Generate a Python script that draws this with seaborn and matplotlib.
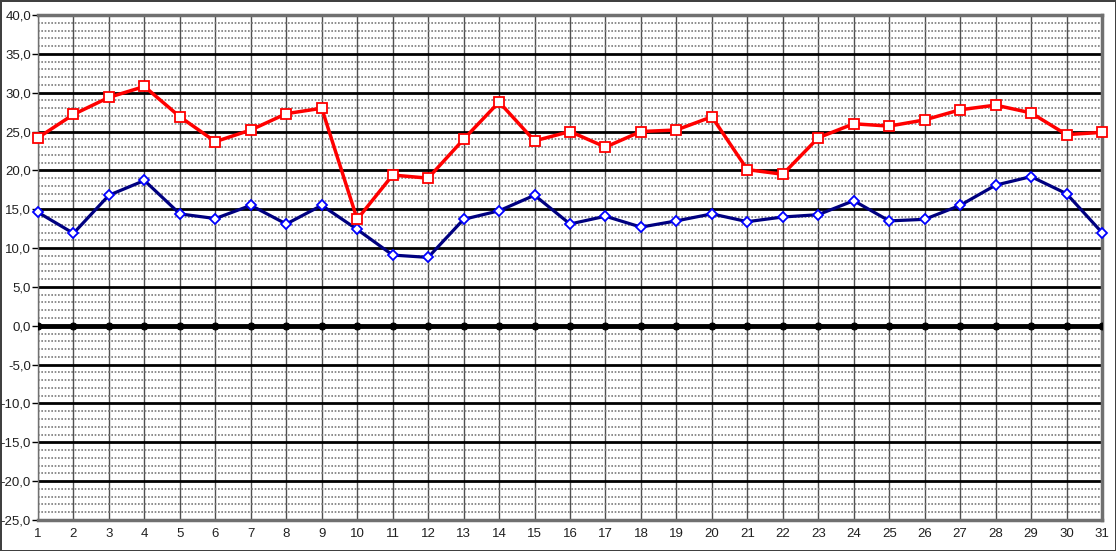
import numpy as np
import matplotlib
matplotlib.use('Agg')
import matplotlib.pyplot as plt
import matplotlib.ticker as mticker
import pandas as pd
import seaborn as sns

# days of month
days = list(range(1, 32))

# upper series (red squares)
red_vals = [24.2, 27.2, 29.4, 30.8, 26.9, 23.7, 25.2, 27.3, 28.0, 13.7,
            19.4, 19.0, 24.0, 28.8, 23.8, 25.0, 23.0, 25.0, 25.2, 26.9,
            20.1, 19.5, 24.2, 26.0, 25.7, 26.5, 27.8, 28.4, 27.4, 24.6, 24.9]

# lower series (blue diamonds)
blue_vals = [14.6, 11.9, 16.8, 18.7, 14.4, 13.8, 15.5, 13.1, 15.5, 12.4,
             9.1, 8.8, 13.7, 14.8, 16.8, 13.1, 14.1, 12.7, 13.5, 14.4,
             13.4, 14.0, 14.3, 16.1, 13.5, 13.7, 15.5, 18.1, 19.2, 17.0, 12.0]

# zero reference series (black dots)
zero_vals = [0.0] * 31

df = pd.DataFrame({'day': days, 'red': red_vals, 'blue': blue_vals, 'zero': zero_vals})

sns.set_style('white')
plt.rcParams['font.family'] = ['Liberation Sans', 'DejaVu Sans']

fig = plt.figure(figsize=(11.16, 5.51), dpi=100, edgecolor='#404040', linewidth=2)
ax = fig.add_axes([38 / 1116, 1 - 520 / 551, (1102 - 38) / 1116, (520 - 15) / 551])

# grid
ax.set_xlim(1, 31)
ax.set_ylim(-25, 40)
ax.yaxis.set_major_locator(mticker.MultipleLocator(5))
ax.yaxis.set_minor_locator(mticker.MultipleLocator(1))
ax.xaxis.set_major_locator(mticker.MultipleLocator(1))
ax.grid(which='minor', axis='y', color='#7a7a7a', linestyle=(0, (1, 1)), linewidth=1.2)
ax.grid(which='major', axis='y', color='black', linestyle='-', linewidth=2)
ax.grid(which='major', axis='x', color='#505050', linestyle='-', linewidth=1)
ax.set_axisbelow(True)

# series
sns.lineplot(data=df, x='day', y='zero', ax=ax, color='black', linewidth=3.5,
             marker='o', markersize=5, markerfacecolor='black', markeredgecolor='black', zorder=3)
sns.lineplot(data=df, x='day', y='blue', ax=ax, color='#000080', linewidth=2.3,
             marker='D', markersize=5, markerfacecolor='white', markeredgecolor='#0000ff',
             markeredgewidth=1.3, zorder=4, clip_on=False)
sns.lineplot(data=df, x='day', y='red', ax=ax, color='#ff0000', linewidth=2.5,
             marker='s', markersize=7, markerfacecolor='white', markeredgecolor='#ff0000',
             markeredgewidth=1.3, zorder=5, clip_on=False)

ax.set_xlabel('')
ax.set_ylabel('')
ax.yaxis.set_major_formatter(mticker.FuncFormatter(lambda v, p: f'{v:.1f}'.replace('.', ',')))
ax.tick_params(axis='y', which='major', length=4, width=1, color='black', left=True,
               labelsize=9.5, labelcolor='#202020', pad=1)
ax.tick_params(axis='y', which='minor', length=0)
ax.tick_params(axis='x', length=0, labelsize=9.5, labelcolor='#202020', pad=6)

for side in ['top', 'bottom', 'right']:
    ax.spines[side].set_color('#707070')
    ax.spines[side].set_linewidth(2.5)
ax.spines['left'].set_color('#707070')
ax.spines['left'].set_linewidth(1)

fig.savefig('out.png', dpi=100, edgecolor=fig.get_edgecolor())
